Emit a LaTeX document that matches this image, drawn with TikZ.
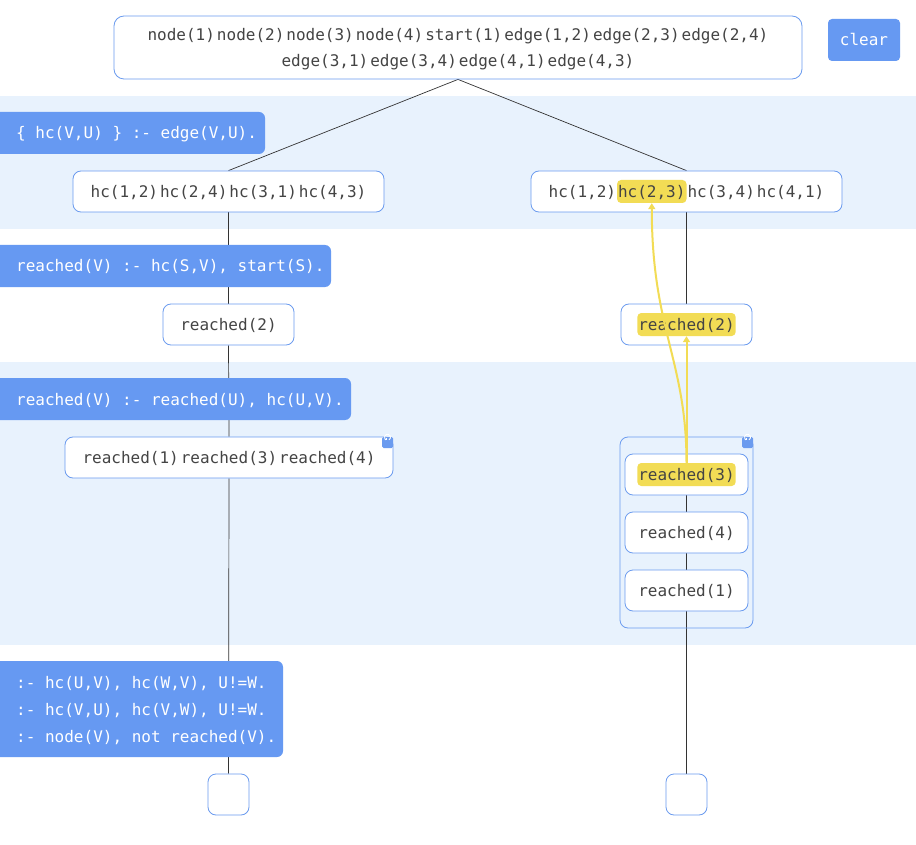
\documentclass[tikz,border=0pt]{standalone}
\usepackage{fontspec}
\newfontfamily\mono{DejaVu Sans Mono}
\usetikzlibrary{arrows.meta}
\pgfdeclarelayer{bg}\pgfdeclarelayer{edges}
\pgfsetlayers{bg,edges,main}
\definecolor{band}{HTML}{E8F2FD}
\definecolor{bord}{HTML}{6B9BEF}
\definecolor{rulec}{HTML}{6699F2}
\definecolor{txt}{HTML}{444444}
\definecolor{hly}{HTML}{F2DC55}
\definecolor{edgec}{HTML}{333333}
\newcommand\gap{\hspace{2pt}}
\begin{document}
\begin{tikzpicture}[x=1pt,y=-1pt,
  every node/.style={font=\mono\fontsize{16}{19}\selectfont\frenchspacing, text=txt, inner sep=0pt, text height=14pt, text depth=2pt},
  atombox/.style={draw=bord, fill=white, rounded corners=8pt, line width=0.8pt, minimum height=41pt},
  grpbox/.style={draw=bord, rounded corners=8pt, line width=0.8pt},
  rulefill/.style={fill=rulec, rounded corners=6pt},
  ruletext/.style={text=white, anchor=west},
  hlbox/.style={fill=hly, rounded corners=4pt, inner xsep=1pt, minimum height=23pt},
  conn/.style={draw=edgec, line width=0.7pt},
  yarrow/.style={draw=hly, line width=2pt, -{Triangle[length=6pt,width=7pt]}},
  iconbox/.style={fill=bord, rounded corners=1.5pt, minimum width=11pt, minimum height=11pt, text height=0pt, text depth=0pt},
  iconsym/.style={draw=white, line width=0.9pt}
]
\useasboundingbox (0,0) rectangle (916,845);
\clip (0,0) rectangle (916,845);
\begin{pgfonlayer}{bg}
  \fill[white] (0,0) rectangle (916,845);
  \fill[band] (0,96) rectangle (916,229);
  \fill[band] (0,362) rectangle (916,645);
\end{pgfonlayer}

% top box
\node[atombox, minimum width=688pt, minimum height=63pt, rounded corners=10pt] (top) at (458,47.5) {};
\node (topA) at (458,35) {node(1)\gap node(2)\gap node(3)\gap node(4)\gap start(1)\gap edge(1,2)\gap edge(2,3)\gap edge(2,4)};
\node (topB) at (458,61) {edge(3,1)\gap edge(3,4)\gap edge(4,1)\gap edge(4,3)};

% clear button
\node[fill=rulec, rounded corners=4pt, minimum width=72pt, minimum height=42pt, text=white] (clear) at (864,40) {clear};

% left column
\node[atombox, minimum width=311pt] (hcL) at (228.5,191.5) {hc(1,2)\gap hc(2,4)\gap hc(3,1)\gap hc(4,3)};
\node[atombox, minimum width=131pt] (r2L) at (228.5,324.5) {reached(2)};
\node[atombox, minimum width=328pt] (r134L) at (229,457.5) {reached(1)\gap reached(3)\gap reached(4)};
\node[iconbox] (iconL) at (387.5,442.5) {};
\draw[iconsym] (iconL.center) ++(1.5,-2.6) arc[start angle=-60, end angle=240, radius=3pt];
\draw[iconsym] (iconL.center) ++(-1.5,-2.6) -- ++(0,-1.6);
\node[atombox, minimum width=41pt] (eL) at (228.5,794.5) {};

% right column
\node[atombox, minimum width=311pt] (hcR) at (686.5,191.5) {};
\node[hlbox] (hl23) at (651.78,191.5) {hc(2,3)};
\node (hcRt) at (686.5,191.5) {hc(1,2)\gap\phantom{hc(2,3)}\gap hc(3,4)\gap hc(4,1)};
\node[atombox, minimum width=131pt] (r2R) at (686.5,324.5) {};
\node[hlbox] (hl2) at (686.5,324.5) {reached(2)};
\node[grpbox, minimum width=133pt, minimum height=191pt] (grp) at (686.5,532.5) {};
\node[iconbox] (iconR) at (747.5,442.5) {};
\draw[iconsym] (iconR.center) ++(1.5,-2.6) arc[start angle=-60, end angle=240, radius=3pt];
\draw[iconsym] (iconR.center) ++(-1.5,-2.6) -- ++(0,-1.6);
\node[atombox, minimum width=123pt] (r3R) at (686.5,474.5) {};
\node[hlbox] (hl3) at (686.5,474.5) {reached(3)};
\node[atombox, minimum width=123pt] (r4R) at (686.5,532.5) {reached(4)};
\node[atombox, minimum width=123pt] (r1R) at (686.5,590.5) {reached(1)};
\node[atombox, minimum width=41pt] (eR) at (686.5,794.5) {};

% connectors
\begin{pgfonlayer}{edges}
  \draw[conn] (top.south) -- (hcL.north);
  \draw[conn] (top.south) -- (hcR.north);
  \draw[conn] (hcL.south) -- (r2L.north);
  \draw[conn] (r2L.south) -- (r134L.north);
  \draw[conn] (r134L.south) -- (eL.north);
  \draw[conn] (hcR.south) -- (r2R.north);
  \draw[conn] (r2R.south) -- (r3R.north);
  \draw[conn] (r3R.south) -- (r4R.north);
  \draw[conn] (r4R.south) -- (r1R.north);
  \draw[conn] (r1R.south) -- (eR.north);
\end{pgfonlayer}

% rule labels
\fill[rulefill] (-10,112) rectangle (265,154);
\node[ruletext] (rule1) at (16,133) {\{ hc(V,U) \} :- edge(V,U).};
\fill[rulefill] (-10,245) rectangle (331,287);
\node[ruletext] (rule2) at (16,266) {reached(V) :- hc(S,V), start(S).};
\fill[rulefill] (-10,378) rectangle (351,420);
\node[ruletext] (rule3) at (16,399) {reached(V) :- reached(U), hc(U,V).};
\fill[rulefill] (-10,661) rectangle (283,757);
\node[ruletext] (rule4a) at (16,682) {:- hc(U,V), hc(W,V), U!=W.};
\node[ruletext] (rule4b) at (16,709) {:- hc(V,U), hc(V,W), U!=W.};
\node[ruletext] (rule4c) at (16,736) {:- node(V), not reached(V).};

% yellow arrows
\draw[yarrow] (hl3.north) -- (hl2.south);
\draw[yarrow] (hl3.north) .. controls (686.5,360) and (651.8,330) .. (hl23.south);
\end{tikzpicture}
\end{document}
